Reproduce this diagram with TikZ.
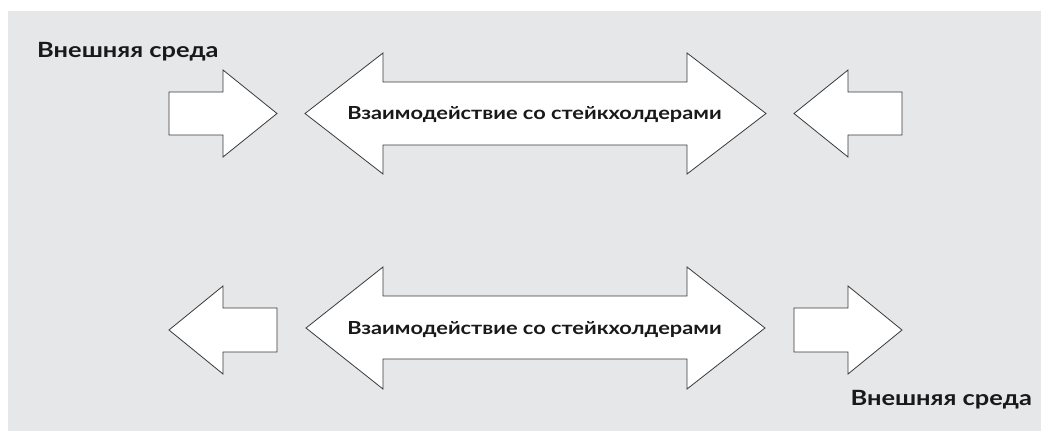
\documentclass[tikz,border=0pt]{standalone}
\usepackage{fontspec}
\setmainfont{Lato}[BoldFont={Lato Bold}]
\definecolor{bggray}{HTML}{E6E7E8}
\definecolor{edge}{HTML}{3A3A3A}
\newcommand{\widetext}[1]{\scalebox{1.21}[1]{#1}}
\tikzset{
  arrowshape/.style={draw=edge, fill=white, line width=0.8pt, line join=miter},
  outerlabel/.style={font=\bfseries\fontsize{21}{24}\selectfont, text=black!90, inner sep=0pt},
  innerlabel/.style={font=\bfseries\fontsize{18}{21}\selectfont, text=black!90, inner sep=0pt}
}
\begin{document}
\begin{tikzpicture}[x=1pt,y=-1pt]
\useasboundingbox (0,0) rectangle (1041,431);
\fill[bggray] (8,11) rectangle (1041,431);
% top row
\draw[arrowshape] (169,92) -- (223,92) -- (223,70) -- (277,113.5) -- (223,157) -- (223,135) -- (169,135) -- cycle;
\draw[arrowshape] (305,113.5) -- (383,53) -- (383,82) -- (687,82) -- (687,53) -- (766,113.5) -- (687,174) -- (687,145) -- (383,145) -- (383,174) -- cycle;
\draw[arrowshape] (794,113.5) -- (848,70) -- (848,92) -- (902,92) -- (902,135) -- (848,135) -- (848,157) -- cycle;
% bottom row
\draw[arrowshape] (169,330) -- (223,286) -- (223,308) -- (277,308) -- (277,352) -- (223,352) -- (223,374) -- cycle;
\draw[arrowshape] (306,328) -- (383,267) -- (383,296) -- (687,296) -- (687,267) -- (765,328) -- (687,389) -- (687,359) -- (383,359) -- (383,389) -- cycle;
\draw[arrowshape] (794,308) -- (848,308) -- (848,286) -- (902,330) -- (848,374) -- (848,352) -- (794,352) -- cycle;
% labels
\node[outerlabel, anchor=base west] (envtop) at (37,57) {\widetext{Внешняя среда}};
\node[innerlabel, anchor=base] (inttop) at (534.5,119) {\widetext{Взаимодействие со стейкхолдерами}};
\node[innerlabel, anchor=base] (intbot) at (534.5,334) {\widetext{Взаимодействие со стейкхолдерами}};
\node[outerlabel, anchor=base east] (envbot) at (1032,405) {\widetext{Внешняя среда}};
\end{tikzpicture}
\end{document}
